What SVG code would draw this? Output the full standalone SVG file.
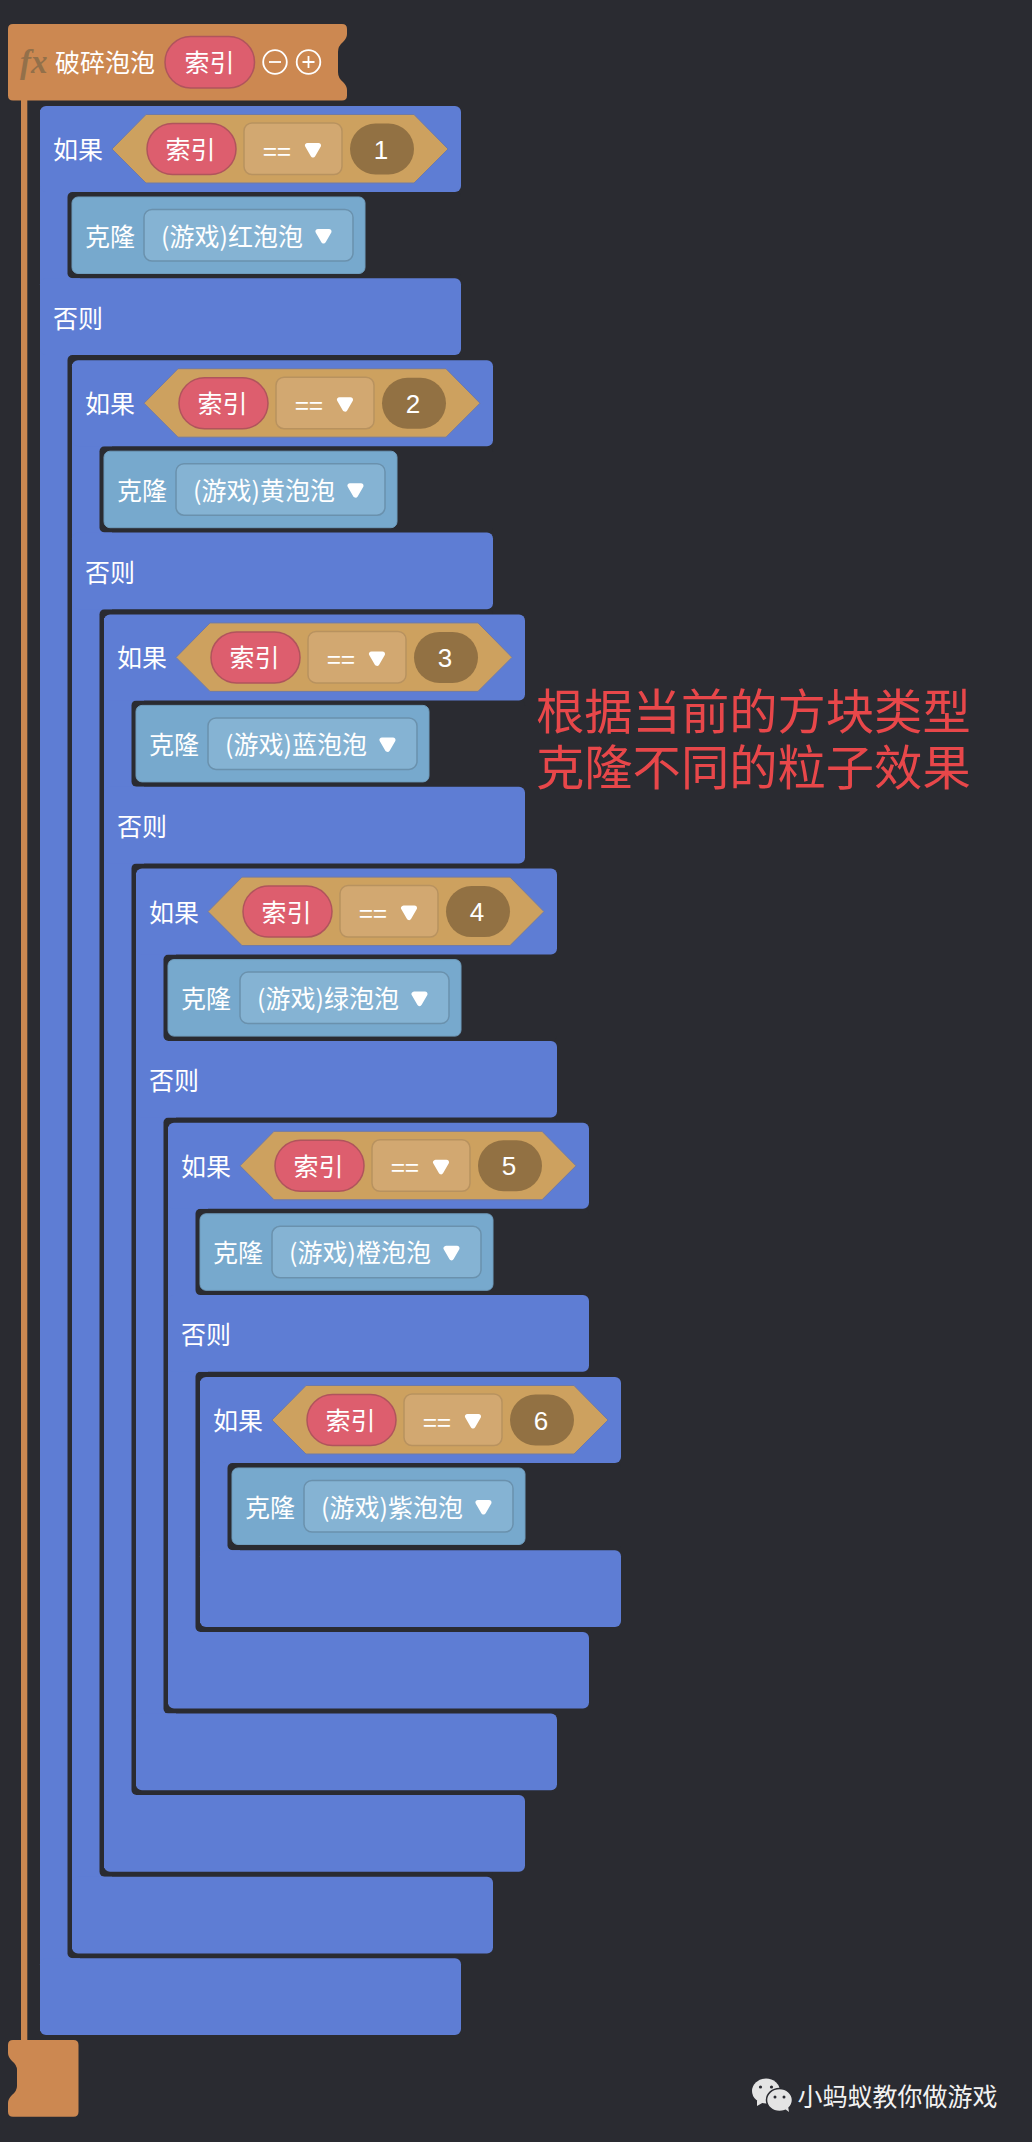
<svg xmlns="http://www.w3.org/2000/svg" width="1032" height="2142" viewBox="0 0 1032 2142">
<style>
text{font-family:"Noto Sans CJK SC","Noto Sans",sans-serif;fill:#fff;font-size:25px}
.m{text-anchor:middle}
.num{font-family:"Liberation Sans",Arial,sans-serif;font-size:26px}
.blue{fill:#5e7dd4}
.gap{fill:#2a2b31}
.hex{fill:#cda15f;stroke:#6f7aa8;stroke-width:1}
.pill{fill:#dd5e6e;stroke:#b0545c;stroke-width:1.5}
.op{fill:#d2a871;stroke:#b8925f;stroke-width:1.5}
.numb{fill:#927143}
.clone{fill:#77a9cd;stroke:#6f9cbd;stroke-width:1}
.dd{fill:#85b3d3;stroke:#6a91ad;stroke-width:1.5}
.tri{fill:#fff;stroke:#fff;stroke-width:5;stroke-linejoin:round}
.note{font-size:48.300px;fill:#e8474a}
</style>
<defs>
<g id="head">
<rect class="blue" x="40" y="106" width="421" height="86" rx="6"/>
<path class="hex" d="M112,149 L146,114.500 H414 L448,149 L414,183 H146 Z"/>
<rect class="pill" x="147" y="123.500" width="89" height="51" rx="25.500"/>
<rect class="op" x="244" y="123" width="98" height="51.500" rx="8"/>
<path class="tri" d="M307.500,145.500 H318.500 L313,155 Z"/>
<rect class="numb" x="350" y="123.500" width="64" height="51" rx="25.500"/>
</g>
<g id="cl">
<rect class="clone" x="72" y="197" width="293" height="76.500" rx="6"/>
<rect class="dd" x="144" y="209.500" width="209" height="51.500" rx="8"/>
<path class="tri" d="M318,231.500 H329 L323.500,241 Z"/>
</g>
</defs>
<rect width="1032" height="2142" class="gap"/>

<g id="function-header">
<rect x="21" y="98" width="6.300" height="1944" fill="#cc8851"/>
<path fill="#cc8851" d="M13,24 H342 Q347,24 347,29 V34 Q347,38 343,42 Q338,46 338,52 V72 Q338,78 343,82 Q347,86 347,90 V95.500 Q347,100.500 342,100.500 H13 Q8,100.500 8,95.500 V29 Q8,24 13,24 Z"/>
<text x="20" y="73" style="font-family:'Liberation Serif',serif;font-style:italic;font-weight:bold;font-size:33px;fill:#93704a">fx</text>
<text x="55" y="72">破碎泡泡</text>
<rect class="pill" x="165" y="36.500" width="89.500" height="51.500" rx="25.700"/>
<text class="m" x="209.500" y="72">索引</text>
<circle cx="275" cy="62" r="11.800" fill="none" stroke="#fff" stroke-width="1.800"/>
<path d="M269,62 H281" stroke="#fff" stroke-width="1.800"/>
<circle cx="308.500" cy="62" r="11.800" fill="none" stroke="#fff" stroke-width="1.800"/>
<path d="M302.500,62 H314.500 M308.500,56 V68" stroke="#fff" stroke-width="1.800"/>
</g>

<g id="if-1">
<rect class="blue" x="40" y="110" width="40" height="1921"/>
<rect class="gap" x="67.500" y="192" width="393.500" height="86.300" rx="5"/>
<rect class="gap" x="67.500" y="355" width="393.500" height="1603.300" rx="5"/>
<rect class="blue" x="40" y="1958.300" width="421" height="76.700" rx="6"/>
<rect class="blue" x="40" y="278.300" width="421" height="76.700" rx="6"/>
<use href="#head"/><use href="#cl"/>
<text x="53" y="159">如果</text><text class="m" x="190.500" y="159">索引</text><text class="m" x="277" y="160.500">==</text><text class="m num" x="381" y="158.500">1</text>
<text x="85" y="245.500">克隆</text><text x="161" y="245.500">(游戏)红泡泡</text>
<text x="53" y="327.500">否则</text>
</g>

<g id="if-2">
<rect class="blue" x="72" y="364" width="40" height="1585"/>
<rect class="gap" x="99.500" y="446.200" width="393.500" height="86.300" rx="5"/>
<rect class="gap" x="99.500" y="609.200" width="393.500" height="1267.500" rx="5"/>
<rect class="blue" x="72" y="1876.700" width="421" height="76.700" rx="6"/>
<g transform="translate(32,254.200)">
<rect class="blue" x="40" y="278.300" width="421" height="76.700" rx="6"/>
<use href="#head"/><use href="#cl"/>
<text x="53" y="159">如果</text><text class="m" x="190.500" y="159">索引</text><text class="m" x="277" y="160.500">==</text><text class="m num" x="381" y="158.500">2</text>
<text x="85" y="245.500">克隆</text><text x="161" y="245.500">(游戏)黄泡泡</text>
<text x="53" y="327.500">否则</text>
</g></g>

<g id="if-3">
<rect class="blue" x="104" y="618" width="40" height="1250"/>
<rect class="gap" x="131.500" y="700.400" width="393.500" height="86.300" rx="5"/>
<rect class="gap" x="131.500" y="863.400" width="393.500" height="931.600" rx="5"/>
<rect class="blue" x="104" y="1795.100" width="421" height="76.700" rx="6"/>
<g transform="translate(64,508.400)">
<rect class="blue" x="40" y="278.300" width="421" height="76.700" rx="6"/>
<use href="#head"/><use href="#cl"/>
<text x="53" y="159">如果</text><text class="m" x="190.500" y="159">索引</text><text class="m" x="277" y="160.500">==</text><text class="m num" x="381" y="158.500">3</text>
<text x="85" y="245.500">克隆</text><text x="161" y="245.500">(游戏)蓝泡泡</text>
<text x="53" y="327.500">否则</text>
</g></g>

<g id="if-4">
<rect class="blue" x="136" y="873" width="40" height="913"/>
<rect class="gap" x="163.500" y="954.600" width="393.500" height="86.300" rx="5"/>
<rect class="gap" x="163.500" y="1117.600" width="393.500" height="596" rx="5"/>
<rect class="blue" x="136" y="1713.500" width="421" height="76.700" rx="6"/>
<g transform="translate(96,762.600)">
<rect class="blue" x="40" y="278.300" width="421" height="76.700" rx="6"/>
<use href="#head"/><use href="#cl"/>
<text x="53" y="159">如果</text><text class="m" x="190.500" y="159">索引</text><text class="m" x="277" y="160.500">==</text><text class="m num" x="381" y="158.500">4</text>
<text x="85" y="245.500">克隆</text><text x="161" y="245.500">(游戏)绿泡泡</text>
<text x="53" y="327.500">否则</text>
</g></g>

<g id="if-5">
<rect class="blue" x="168" y="1127" width="40" height="577"/>
<rect class="gap" x="195.500" y="1208.800" width="393.500" height="86.300" rx="5"/>
<rect class="gap" x="195.500" y="1371.800" width="393.500" height="260.200" rx="5"/>
<rect class="blue" x="168" y="1631.900" width="421" height="76.700" rx="6"/>
<g transform="translate(128,1016.800)">
<rect class="blue" x="40" y="278.300" width="421" height="76.700" rx="6"/>
<use href="#head"/><use href="#cl"/>
<text x="53" y="159">如果</text><text class="m" x="190.500" y="159">索引</text><text class="m" x="277" y="160.500">==</text><text class="m num" x="381" y="158.500">5</text>
<text x="85" y="245.500">克隆</text><text x="161" y="245.500">(游戏)橙泡泡</text>
<text x="53" y="327.500">否则</text>
</g></g>

<g id="if-6">
<rect class="blue" x="200" y="1381" width="40" height="242"/>
<rect class="gap" x="227.500" y="1463" width="393.500" height="87.300" rx="5"/>
<rect class="blue" x="200" y="1550.300" width="421" height="76.700" rx="6"/>
<g transform="translate(160,1271)">
<use href="#head"/><use href="#cl"/>
<text x="53" y="159">如果</text><text class="m" x="190.500" y="159">索引</text><text class="m" x="277" y="160.500">==</text><text class="m num" x="381" y="158.500">6</text>
<text x="85" y="245.500">克隆</text><text x="161" y="245.500">(游戏)紫泡泡</text>
</g></g>

<g id="function-end">
<path fill="#cc8851" d="M13,2040 H73.500 Q78.500,2040 78.500,2045 V2111.700 Q78.500,2116.700 73.500,2116.700 H13 Q8,2116.700 8,2111.700 V2103 Q8,2099 12,2095 Q17,2091 17,2086 V2070 Q17,2065 12,2061 Q8,2057 8,2053 V2045 Q8,2040 13,2040 Z"/>
</g>

<g id="annotation">
<text class="note" x="536" y="729">根据当前的方块类型</text>
<text class="note" x="536" y="785">克隆不同的粒子效果</text>
</g>

<g id="watermark">
<ellipse cx="766" cy="2091" rx="14" ry="12.500" fill="#e4e4e4"/>
<path d="M757,2100 L757,2106 L764,2102 Z" fill="#e4e4e4"/>
<circle cx="760.500" cy="2087" r="1.600" fill="#2a2b31"/><circle cx="771.500" cy="2087" r="1.600" fill="#2a2b31"/>
<ellipse cx="779.500" cy="2100" rx="13" ry="11.500" fill="#e4e4e4" stroke="#2a2b31" stroke-width="1.500"/>
<path d="M785,2109 L789,2112 L788,2106 Z" fill="#e4e4e4"/>
<circle cx="775" cy="2097" r="1.500" fill="#2a2b31"/><circle cx="784" cy="2097" r="1.500" fill="#2a2b31"/>
<text x="797.500" y="2105.500" style="fill:#f2f2f2">小蚂蚁教你做游戏</text>
</g>
</svg>
